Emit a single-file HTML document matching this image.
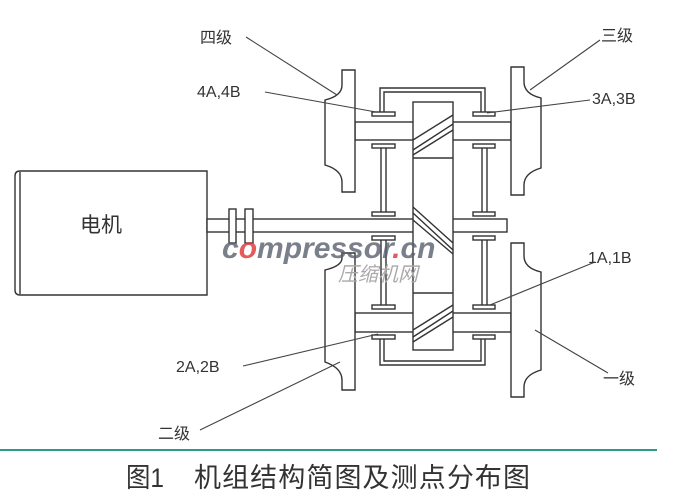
<!DOCTYPE html>
<html><head><meta charset="utf-8"><style>
html,body{margin:0;padding:0;background:#fff}
svg{display:block}
text{font-family:"Liberation Sans","Noto Sans CJK SC",sans-serif;fill:#333}
</style></head><body>
<svg width="688" height="504" viewBox="0 0 688 504" xmlns="http://www.w3.org/2000/svg">
<g fill="none" stroke="#333" stroke-width="1.4">
<path d="M20 171 H207 V295 H20 Q15 295 15 290 V176 Q15 171 20 171 Z" fill="#fff"/>
<line x1="20" y1="172" x2="20" y2="294"/>
<rect x="207" y="219" width="300" height="13" fill="#fff"/>
<rect x="229" y="209" width="7" height="34" fill="#fff"/>
<rect x="245" y="209" width="8" height="34" fill="#fff"/>
<rect x="355" y="122" width="156" height="18" fill="#fff"/>
<rect x="355" y="313" width="156" height="19" fill="#fff"/>
<path d="M380 114 V88 H485 V114"/>
<path d="M384 114 V92 H481 V114"/>
<path d="M380 336 V365 H485 V336"/>
<path d="M384 336 V361 H481 V336"/>
<path d="M381 148 V212 M386 148 V212 M381 240 V305 M386 240 V305"/>
<path d="M482 148 V212 M487 148 V212 M482 240 V305 M487 240 V305"/>
<g fill="#fff">
<rect x="372" y="112" width="23" height="4"/><rect x="473" y="112" width="22" height="4"/>
<rect x="372" y="144" width="23" height="4"/><rect x="473" y="144" width="22" height="4"/>
<rect x="372" y="212" width="23" height="4"/><rect x="473" y="212" width="22" height="4"/>
<rect x="372" y="236" width="23" height="4"/><rect x="473" y="236" width="22" height="4"/>
<rect x="372" y="305" width="23" height="4"/><rect x="473" y="305" width="22" height="4"/>
<rect x="372" y="335" width="23" height="4"/><rect x="473" y="335" width="22" height="4"/>
</g>
<rect x="413" y="102" width="40" height="248" fill="#fff"/>
<line x1="413" y1="158" x2="453" y2="158"/>
<line x1="413" y1="293" x2="453" y2="293"/>
<path d="M413 140 L453 115 M413 150 L453 124 M413 155 L453 130"/>
<path d="M413 207 L453 243 M413 213 L453 250 M413 220 L453 254"/>
<path d="M413 330 L453 305 M413 337 L453 311 M413 342 L453 317"/>
<path d="M355 70 V192 H342 V182 Q342 170 325 165 V100 Q342 96 342 85 V70 Z" fill="#fff"/>
<path d="M355 253 V390 H342 V380 Q342 368 325 362 V270 Q342 266 342 258 V253 Z" fill="#fff"/>
<path d="M511 67 V195 H524 V185 Q524 173 541 168 V98 Q524 94 524 82 V67 Z" fill="#fff"/>
<path d="M511 243 V397 H524 V387 Q524 375 541 370 V272 Q524 268 524 256 V243 Z" fill="#fff"/>
</g>
<g stroke="#444" stroke-width="1.1" fill="none">
<line x1="246" y1="37" x2="337" y2="95"/>
<line x1="265" y1="92" x2="376" y2="112"/>
<line x1="600" y1="40" x2="530" y2="90"/>
<line x1="590" y1="100" x2="487" y2="113"/>
<line x1="595" y1="262" x2="490" y2="305"/>
<line x1="608" y1="373" x2="535" y2="330"/>
<line x1="243" y1="366" x2="378" y2="334"/>
<line x1="200" y1="430" x2="340" y2="362"/>
</g>
<text x="222" y="258" font-size="30" font-style="italic" font-weight="bold" style="fill:#5a6070;opacity:.8">c<tspan style="fill:#d33">o</tspan>mpressor<tspan style="fill:#d33">.</tspan>cn</text>
<text x="338" y="281" font-size="20" font-style="italic" style="fill:#aaa">压缩机网</text>
<g font-size="16" style="fill:#444">
<text x="200" y="43">四级</text>
<text x="601" y="41">三级</text>
<text x="197" y="97">4A,4B</text>
<text x="592" y="104">3A,3B</text>
<text x="588" y="263">1A,1B</text>
<text x="176" y="372">2A,2B</text>
<text x="603" y="384">一级</text>
<text x="158" y="439">二级</text>
</g>
<text x="80" y="232" font-size="21">电机</text>
<line x1="0" y1="450" x2="657" y2="450" stroke="#2a9a8a" stroke-width="2"/>
<text x="126" y="487" font-size="27" textLength="38" lengthAdjust="spacingAndGlyphs">图1</text>
<text x="194" y="487" font-size="27" textLength="336" lengthAdjust="spacing">机组结构简图及测点分布图</text>
</svg>
</body></html>
